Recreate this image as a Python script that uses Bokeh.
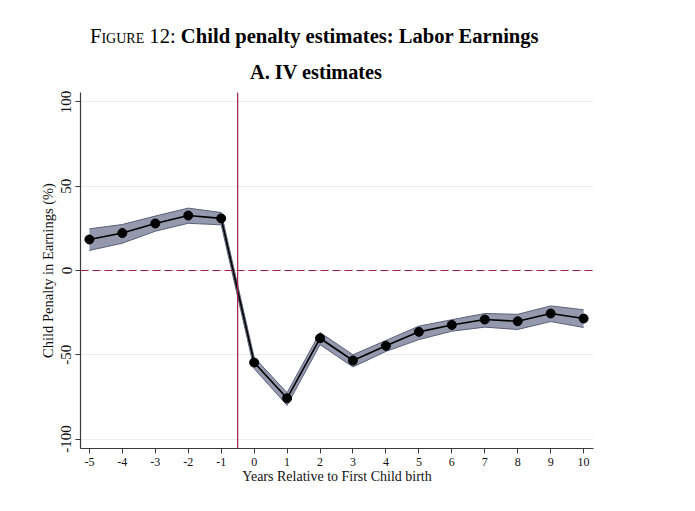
from bokeh.plotting import figure
from bokeh.models import Range1d, Span, Div, FixedTicker
from bokeh.layouts import column
from bokeh.embed import file_html
from bokeh.resources import INLINE

years = [-5, -4, -3, -2, -1, 0, 1, 2, 3, 4, 5, 6, 7, 8, 9, 10]
estimate = [18.4, 22.2, 27.9, 32.6, 30.9, -54.6, -75.8, -40.2, -53.4, -44.7, -36.4, -32.3, -29.1, -30.1, -25.5, -28.5]
upper = [24.7, 27.3, 32.3, 37.0, 34.4, -51.5, -72.5, -36.8, -50.0, -41.5, -33.0, -29.2, -25.5, -26.0, -21.0, -23.3]
lower = [11.9, 16.2, 23.3, 28.0, 27.1, -58.2, -80.0, -44.0, -57.2, -48.0, -41.0, -36.0, -33.6, -35.0, -30.3, -33.8]
y_ticks = [-100, -50, 0, 50, 100]
event_line = -0.5

SERIF = "Liberation Serif"

title_html = (
    '<div style="position:relative;width:679px;height:84px;font-family:\'Liberation Serif\',serif;color:#000;">'
    '<div style="position:absolute;left:90px;top:25px;font-size:20.6px;white-space:nowrap;line-height:22px;">'
    '<span style="font-variant:small-caps;">Figure 12:</span> '
    '<b>Child penalty estimates: Labor Earnings</b></div>'
    '<div style="position:absolute;left:0px;top:61px;width:632px;text-align:center;font-size:20.3px;'
    'font-weight:bold;white-space:nowrap;line-height:22px;">A. IV estimates</div>'
    '</div>'
)
header = Div(text=title_html, width=679, height=84, margin=(0, 0, 0, 0))

p = figure(
    frame_width=513, frame_height=356,
    min_border_left=80, min_border_right=40, min_border_top=8, min_border_bottom=50,
    x_range=Range1d(-5.27, 10.3), y_range=Range1d(-105.6, 105.6),
    output_backend="svg", toolbar_location=None,
    background_fill_color="white", border_fill_color="white",
)
p.outline_line_color = None
p.xgrid.grid_line_color = None
p.ygrid.grid_line_color = "#ebebeb"
p.ygrid.grid_line_width = 1

p.varea(x=years, y1=lower, y2=upper, fill_color="#9499ad", fill_alpha=1.0)
p.line(years, upper, line_color="#596079", line_width=1)
p.line(years, lower, line_color="#596079", line_width=1)

p.add_layout(Span(location=event_line, dimension="height", line_color="#a31e4b", line_width=1.2))
p.add_layout(Span(location=0, dimension="width", line_color="#a31e4b", line_width=1.2, line_dash="8 4"))

p.line(years, estimate, line_color="#000000", line_width=1.6)
p.scatter(years, estimate, size=9, fill_color="#000000", line_color="#000000")

p.xaxis.ticker = FixedTicker(ticks=years)
p.yaxis.ticker = FixedTicker(ticks=y_ticks)
p.xaxis.major_label_overrides = {t: str(t) for t in years}
p.yaxis.major_label_overrides = {t: str(t) for t in y_ticks}
p.xaxis.axis_label = "Years Relative to First Child birth"
p.yaxis.axis_label = "Child Penalty in Earnings (%)"
p.yaxis.major_label_orientation = "vertical"

for ax in (p.xaxis[0], p.yaxis[0]):
    ax.axis_line_color = "#3a3a3a"
    ax.axis_line_width = 1.2
    ax.major_tick_line_color = "#3a3a3a"
    ax.major_tick_out = 5
    ax.major_tick_in = 0
    ax.minor_tick_line_color = None
    ax.major_label_text_font = SERIF
    ax.axis_label_text_font = SERIF
    ax.axis_label_text_font_style = "normal"
    ax.major_label_text_color = "#111111"
    ax.axis_label_text_color = "#111111"

p.xaxis.major_label_text_font_size = "12px"
p.xaxis.axis_label_text_font_size = "14px"
p.xaxis.major_label_standoff = 4
p.xaxis.axis_label_standoff = 0
p.yaxis.major_label_text_font_size = "15px"
p.yaxis.axis_label_text_font_size = "14.5px"
p.yaxis.major_label_standoff = 4
p.yaxis.axis_label_standoff = 3

layout = column(header, p, spacing=0)
open("out.html", "w").write(file_html(layout, INLINE))
